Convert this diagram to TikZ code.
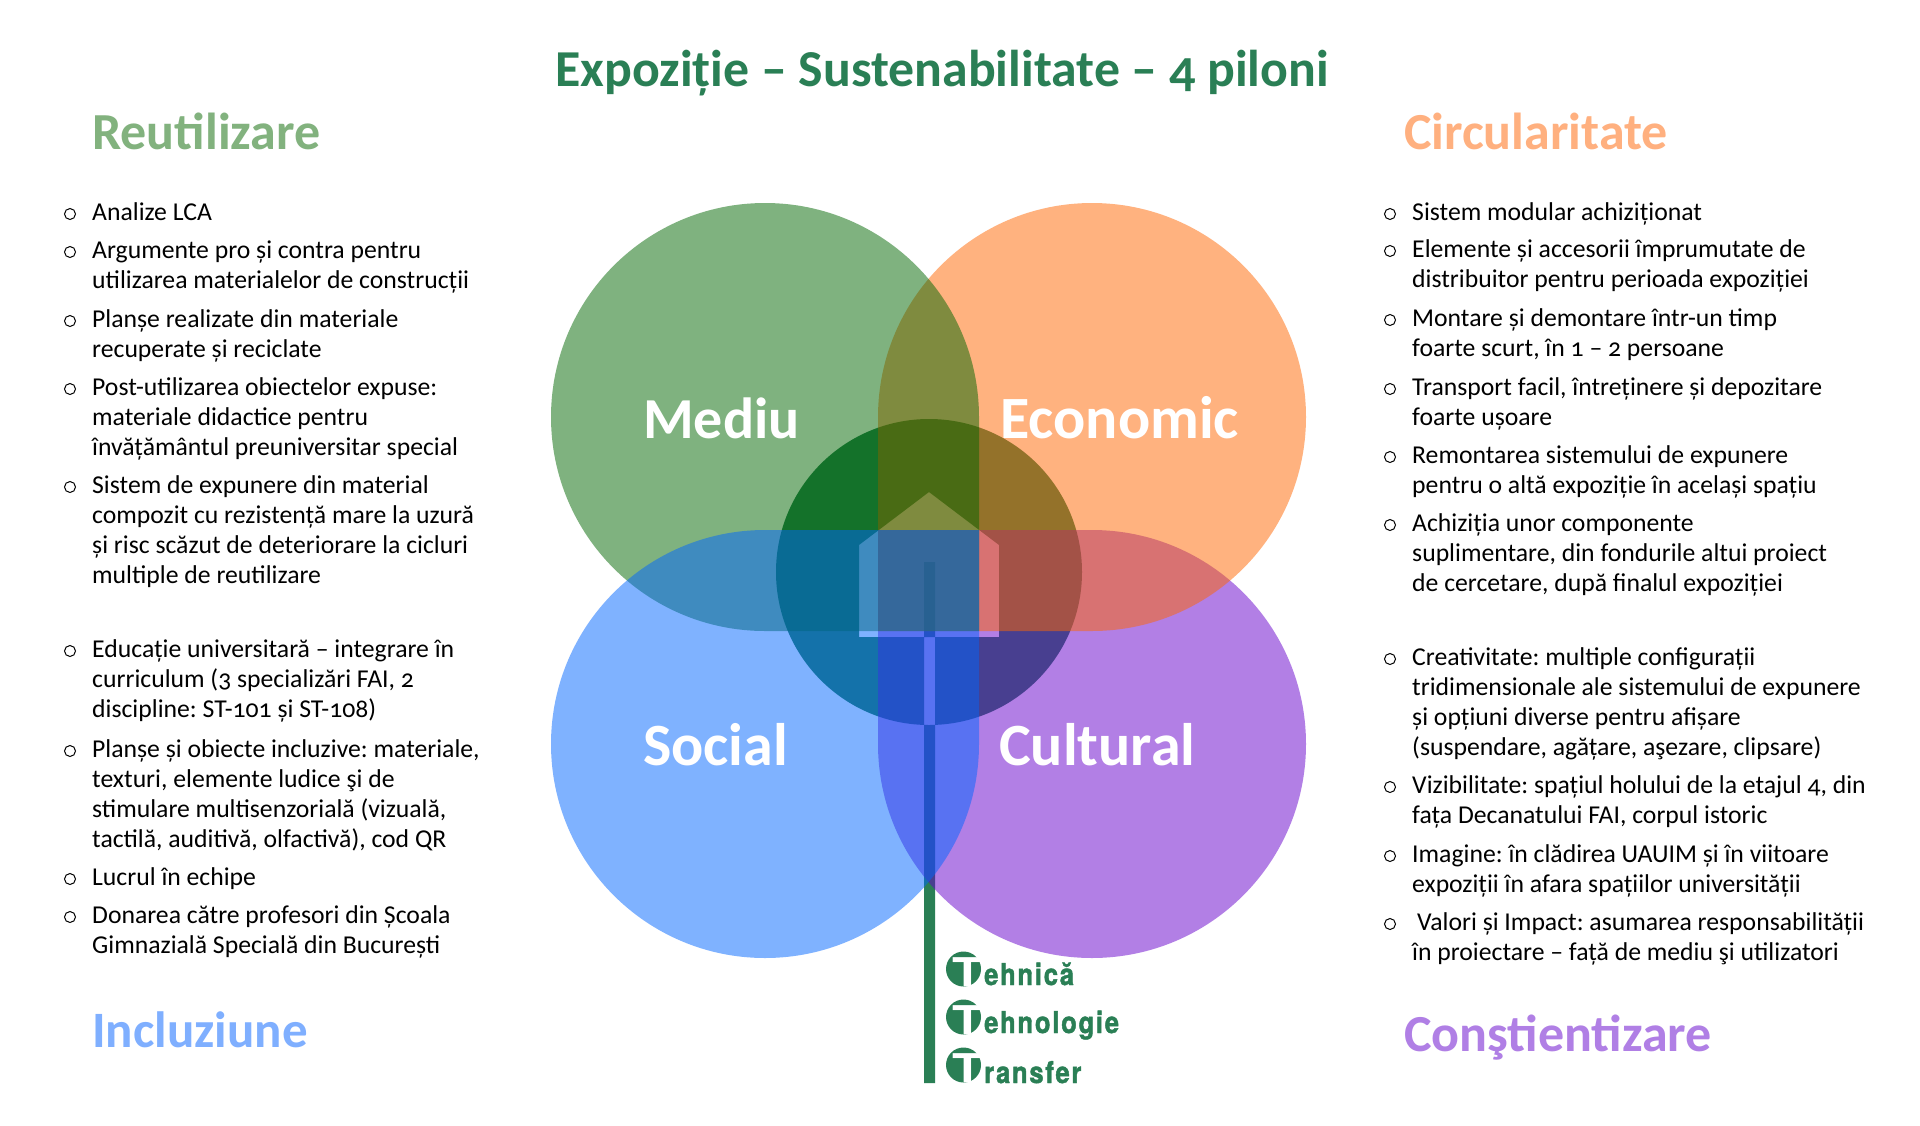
\documentclass[tikz,border=0pt]{standalone}
\usepackage{fontspec}
\setmainfont[Numbers=OldStyle]{Carlito}
\newfontfamily\logofont[FakeStretch=0.85,LetterSpace=6,BoldFeatures={FakeBold=1.5}]{TeX Gyre Heros}
\newfontfamily\logocap[FakeStretch=1.25]{TeX Gyre Heros}
\definecolor{mediucol}{HTML}{006600}
\definecolor{economiccol}{HTML}{FF6600}
\definecolor{socialcol}{HTML}{0066FF}
\definecolor{culturalcol}{HTML}{6600CC}
\definecolor{logocol}{HTML}{2A7F55}
\definecolor{reutilcol}{HTML}{82B27E}
\definecolor{circulcol}{HTML}{FFB07F}
\definecolor{incluzcol}{HTML}{7FAFFF}
\definecolor{constcol}{HTML}{B07FE5}
\newcommand{\pilonitem}[4]{%
  \node[itemtext] (#1) at (#2,#3-21) {\strut #4};
  \node[itemmark] (#1mark) at ([shift={(-22,15)}]#1.north west) {};
}
\newcommand{\logoline}[4]{%
  \node[logodisc] (#1disc) at (963.5,#2) {};
  \node[logoinitial] (#1initial) at ([shift={(4,3.3)}]#1disc.center) {T};
  \node[logotext] (#1) at (984,#3) {#4};
}
\begin{document}
\begin{tikzpicture}
  [x=1pt,y=-1pt,
   pilon/.style={fill opacity=0.5},
   pilonlabel/.style={anchor=base west,inner sep=0pt,text=white,font=\fontsize{60}{62}\selectfont\bfseries},
   heading/.style={anchor=base west,inner sep=0pt,font=\fontsize{52}{54}\selectfont\bfseries},
   itemtext/.style={anchor=north west,inner sep=0pt,align=left,font=\fontsize{25.7}{30}\selectfont\frenchspacing},
   itemmark/.style={circle,draw=black,line width=1pt,minimum size=11pt,inner sep=0pt},
   logodisc/.style={circle,fill=logocol,minimum size=35pt,inner sep=0pt},
   logoinitial/.style={inner sep=0pt,text=white,font=\logocap\fontsize{39.6}{40}\selectfont\bfseries},
   logotext/.style={anchor=base west,inner sep=0pt,text=logocol,font=\logofont\fontsize{30}{30}\selectfont\bfseries}]
  \useasboundingbox (0,0) rectangle (1920,1125);
  \fill[white] (0,0) rectangle (1920,1125);
  \fill[logocol,even odd rule] (929,572) circle[radius=153]
    (929,492) -- (999,545) -- (999,637) -- (859,637) -- (859,545) -- cycle
    (924,562) rectangle (935,1083);
  \fill[pilon,culturalcol] (878,530) -- (878,744) arc[start angle=180,end angle=-90,radius=214] -- cycle;
  \fill[pilon,economiccol] (878,631) -- (878,417) arc[start angle=180,end angle=450,radius=214] -- cycle;
  \fill[pilon,mediucol] (979,631) -- (979,417) arc[start angle=0,end angle=-270,radius=214] -- cycle;
  \fill[pilon,socialcol] (979,530) -- (979,744) arc[start angle=0,end angle=270,radius=214] -- cycle;
  \node[pilonlabel,font=\fontsize{58}{60}\selectfont\bfseries] (mediulabel) at (643,438) {Mediu};
  \node[pilonlabel] (economiclabel) at (1000,438) {Economic};
  \node[pilonlabel] (sociallabel) at (643,765) {Social};
  \node[pilonlabel] (culturallabel) at (999,765) {Cultural};
  \node[anchor=base,inner sep=0pt,text=logocol,font=\fontsize{51.8}{54}\selectfont\bfseries] (titlu) at (942,86)
    {Expoziție – Sustenabilitate – 4 piloni};
  \node[heading,text=reutilcol] (reutilizare) at (92,149) {Reutilizare};
  \node[heading,text=circulcol] (circularitate) at (1404,149) {Circularitate};
  \node[heading,text=incluzcol,font=\fontsize{51}{54}\selectfont\bfseries] (incluziune) at (92,1047) {Incluziune};
  \node[heading,text=constcol] (constientizare) at (1404,1051) {Conştientizare};
  \pilonitem{ra}{92}{220}{Analize LCA}
  \pilonitem{rb}{92}{258}{Argumente pro și contra pentru\\utilizarea materialelor de construcții}
  \pilonitem{rc}{92}{327}{Planșe realizate din materiale\\recuperate și reciclate}
  \pilonitem{rd}{92}{395}{Post-utilizarea obiectelor expuse:\\materiale didactice pentru\\învățământul preuniversitar special}
  \pilonitem{re}{92}{493}{Sistem de expunere din material\\compozit cu rezistență mare la uzură\\și risc scăzut de deteriorare la cicluri\\multiple de reutilizare}
  \pilonitem{ia}{92}{657}{Educație universitară – integrare în\\curriculum (3 specializări FAI, 2\\discipline: ST-101 și ST-108)}
  \pilonitem{ib}{92}{757}{Planșe și obiecte incluzive: materiale,\\texturi, elemente ludice şi de\\stimulare multisenzorială (vizuală,\\tactilă, auditivă, olfactivă), cod QR}
  \pilonitem{ic}{92}{885}{Lucrul în echipe}
  \pilonitem{id}{92}{923}{Donarea către profesori din Școala\\Gimnazială Specială din București}
  \pilonitem{ca}{1412}{220}{Sistem modular achiziționat}
  \pilonitem{cb}{1412}{257}{Elemente și accesorii împrumutate de\\distribuitor pentru perioada expoziției}
  \pilonitem{cc}{1412}{326}{Montare și demontare într-un timp\\foarte scurt, în 1 – 2 persoane}
  \pilonitem{cd}{1412}{395}{Transport facil, întreținere și depozitare\\foarte ușoare}
  \pilonitem{ce}{1412}{463}{Remontarea sistemului de expunere\\pentru o altă expoziție în același spațiu}
  \pilonitem{cf}{1412}{531}{Achiziția unor componente\\suplimentare, din fondurile altui proiect\\de cercetare, după finalul expoziției}
  \pilonitem{na}{1412}{665}{Creativitate: multiple configurații\\tridimensionale ale sistemului de expunere\\și opțiuni diverse pentru afișare\\(suspendare, agățare, aşezare, clipsare)}
  \pilonitem{nb}{1412}{793}{Vizibilitate: spațiul holului de la etajul 4, din\\fața Decanatului FAI, corpul istoric}
  \pilonitem{nc}{1412}{862}{Imagine: în clădirea UAUIM și în viitoare\\expoziții în afara spațiilor universității}
  \pilonitem{nd}{1412}{930}{\hspace{5pt}Valori și Impact: asumarea responsabilității\\în proiectare – față de mediu şi utilizatori}
  \logoline{tehnica}{969}{985}{ehnică}
  \logoline{tehnologie}{1017}{1033}{ehnologie}
  \logoline{transfer}{1065}{1083}{ransfer}
\end{tikzpicture}
\end{document}
